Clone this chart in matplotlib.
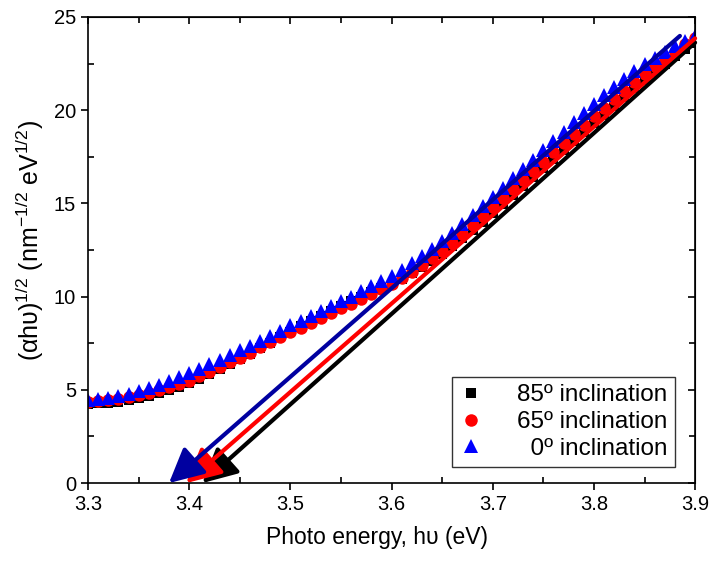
import numpy as np
import matplotlib
matplotlib.use('Agg')
import matplotlib.pyplot as plt
from matplotlib.ticker import MultipleLocator

plt.rcParams['font.family'] = ['Liberation Sans', 'DejaVu Sans']
plt.rcParams['mathtext.fontset'] = 'custom'
plt.rcParams['mathtext.rm'] = 'Liberation Sans'
plt.rcParams['mathtext.it'] = 'Liberation Sans:italic'

# photon energy (eV)
energy = [3.30, 3.31, 3.32, 3.33, 3.34, 3.35, 3.36, 3.37, 3.38, 3.39,
          3.40, 3.41, 3.42, 3.43, 3.44, 3.45, 3.46, 3.47, 3.48, 3.49,
          3.50, 3.51, 3.52, 3.53, 3.54, 3.55, 3.56, 3.57, 3.58, 3.59,
          3.60, 3.61, 3.62, 3.63, 3.64, 3.65, 3.66, 3.67, 3.68, 3.69,
          3.70, 3.71, 3.72, 3.73, 3.74, 3.75, 3.76, 3.77, 3.78, 3.79,
          3.80, 3.81, 3.82, 3.83, 3.84, 3.85, 3.86, 3.87, 3.88, 3.89, 3.90]

# (alpha h nu)^1/2 for each inclination
y_85 = [4.25, 4.27, 4.31, 4.37, 4.45, 4.55, 4.67, 4.81, 4.97, 5.15,
        5.35, 5.58, 5.83, 6.09, 6.36, 6.64, 6.93, 7.22, 7.52, 7.82,
        8.12, 8.41, 8.70, 8.98, 9.25, 9.51, 9.76, 10.00, 10.23, 10.46,
        10.70, 10.96, 11.25, 11.57, 11.92, 12.30, 12.70, 13.12, 13.56, 14.02,
        14.49, 14.97, 15.45, 15.93, 16.41, 16.89, 17.37, 17.85, 18.33, 18.81,
        19.29, 19.76, 20.23, 20.70, 21.16, 21.61, 22.05, 22.48, 22.90, 23.30, 23.62]
y_65 = [4.35, 4.38, 4.43, 4.50, 4.59, 4.70, 4.83, 4.98, 5.14, 5.31,
        5.49, 5.72, 5.96, 6.21, 6.47, 6.73, 7.00, 7.27, 7.54, 7.81,
        8.08, 8.34, 8.60, 8.86, 9.12, 9.37, 9.62, 9.87, 10.13, 10.40,
        10.68, 10.98, 11.31, 11.67, 12.06, 12.47, 12.90, 13.35, 13.82, 14.30,
        14.79, 15.28, 15.77, 16.26, 16.75, 17.24, 17.73, 18.22, 18.71, 19.19,
        19.67, 20.14, 20.60, 21.05, 21.49, 21.92, 22.34, 22.75, 23.14, 23.52, 23.88]
y_0 = [4.45, 4.50, 4.58, 4.67, 4.78, 4.92, 5.08, 5.25, 5.45, 5.67,
       5.90, 6.13, 6.37, 6.61, 6.86, 7.11, 7.36, 7.62, 7.88, 8.15,
       8.45, 8.70, 8.96, 9.22, 9.48, 9.74, 10.00, 10.28, 10.56, 10.84,
       11.12, 11.45, 11.80, 12.17, 12.57, 12.99, 13.43, 13.88, 14.35, 14.85,
       15.35, 15.85, 16.35, 16.85, 17.35, 17.85, 18.35, 18.85, 19.35, 19.85,
       20.33, 20.80, 21.25, 21.68, 22.08, 22.46, 22.82, 23.14, 23.44, 23.72, 23.95]

# linear fits drawn as arrows: (start energy, start value) -> intercept energy
fit_start_x = [3.900, 3.900, 3.885]
fit_start_y = [23.62, 23.85, 23.98]
fit_gap = [3.413, 3.397, 3.380]
fit_colors = ['black', '#ff0000', '#0000a0']

fig = plt.figure(figsize=(7.1, 5.63), dpi=100)
ax = fig.add_axes([0.124, 0.142, 0.855, 0.828])

ax.plot(energy, y_85, 's', color='black', ms=7.5, mew=0, label='85º inclination')
ax.plot(energy, y_65, 'o', color='#ff0000', ms=9, mew=0, label='65º inclination')
ax.plot(energy, y_0, '^', color='#0000ff', ms=10, mew=0, label='  0º inclination')

for x0, y0, xg, c in zip(fit_start_x, fit_start_y, fit_gap, fit_colors):
    ax.annotate('', xy=(xg, 0), xytext=(x0, y0),
                arrowprops=dict(arrowstyle='-|>,head_length=0.75,head_width=0.38',
                                color=c, lw=3, mutation_scale=28,
                                shrinkA=0, shrinkB=0),
                annotation_clip=False)

ax.set_xlim(3.3, 3.9)
ax.set_ylim(0, 25)
ax.xaxis.set_major_locator(MultipleLocator(0.1))
ax.xaxis.set_minor_locator(MultipleLocator(0.05))
ax.yaxis.set_major_locator(MultipleLocator(5))
ax.yaxis.set_minor_locator(MultipleLocator(2.5))
ax.tick_params(which='major', direction='out', length=5, width=1.2, labelsize=14.5)
ax.tick_params(which='minor', direction='in', length=4, width=1.2)
ax.xaxis.set_major_formatter(matplotlib.ticker.FormatStrFormatter('%.1f'))
for s in ax.spines.values():
    s.set_linewidth(1.2)

# mirrored ticks on top and right, pointing inward
top = ax.secondary_xaxis('top')
top.xaxis.set_major_locator(MultipleLocator(0.1))
top.xaxis.set_minor_locator(MultipleLocator(0.05))
top.tick_params(which='both', direction='in', length=5, width=1.2, labeltop=False)
top.tick_params(which='minor', length=4)
right = ax.secondary_yaxis('right')
right.yaxis.set_major_locator(MultipleLocator(5))
right.yaxis.set_minor_locator(MultipleLocator(2.5))
right.tick_params(which='both', direction='in', length=5, width=1.2, labelright=False)
right.tick_params(which='minor', length=4)

ax.set_xlabel('Photo energy, hυ (eV)', fontsize=16.5, labelpad=9)
ax.xaxis.label.set_x(0.476)
ax.set_ylabel('(αhυ)$^{1/2}$ (nm$^{-1/2}$ eV$^{1/2}$)', fontsize=18, labelpad=6)
ax.yaxis.label.set_y(0.52)

leg = ax.legend(loc='lower right', bbox_to_anchor=(0.967, 0.034), borderaxespad=0,
                fontsize=17.5, frameon=True, fancybox=False, edgecolor='black',
                handlelength=1.0, handletextpad=1.4, labelspacing=0.2,
                borderpad=0.3, markerscale=1.0)
leg.get_frame().set_linewidth(1.0)

fig.savefig('out.png', dpi=100)
